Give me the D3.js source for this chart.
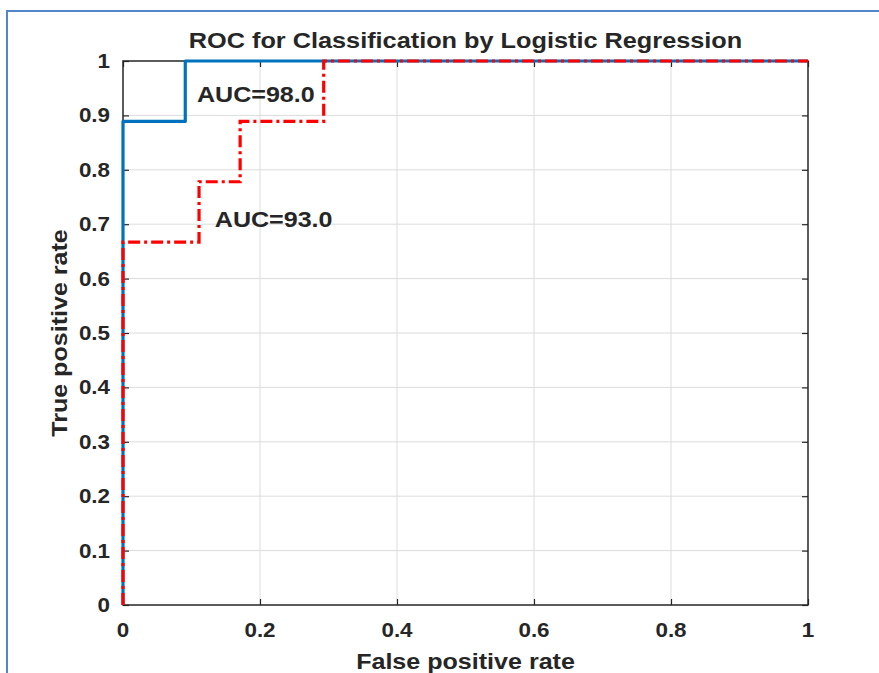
<!DOCTYPE html>
<html>
<head>
<meta charset="utf-8">
<script src="https://cdn.jsdelivr.net/npm/d3@7"></script>
<style>
  html, body { margin: 0; padding: 0; background: #fff; }
  svg { display: block; }
  text { font-family: "Liberation Sans", Arial, Helvetica, sans-serif; font-weight: bold; fill: #262626; }
</style>
</head>
<body>
<svg id="chart" width="879" height="673"></svg>
<script>
// ---- data ----
const blueFPR = [0, 0, 0.0909, 0.0909, 1];
const blueTPR = [0, 0.889, 0.889, 1, 1];
const redFPR  = [0, 0, 0.111, 0.111, 0.171, 0.171, 0.293, 0.293, 1];
const redTPR  = [0, 0.667, 0.667, 0.778, 0.778, 0.889, 0.889, 1, 1];
const xTicks = [0, 0.2, 0.4, 0.6, 0.8, 1];
const yTicks = [0, 0.1, 0.2, 0.3, 0.4, 0.5, 0.6, 0.7, 0.8, 0.9, 1];
const labelTexts = ["AUC=98.0", "AUC=93.0"];
const labelX = [0.108, 0.134];
const labelY = [0.925, 0.695];
const titleText = "ROC for Classification by Logistic Regression";
const xLabelText = "False positive rate";
const yLabelText = "True positive rate";

// ---- layout ----
const svg = d3.select("#chart");
const L = 123, R = 808, T = 61, B = 605;
const x = d3.scaleLinear().domain([0, 1]).range([L, R]);
const y = d3.scaleLinear().domain([0, 1]).range([B, T]);
const SX = 1.12;
const fmt = d => (d === 0 || d === 1) ? String(d) : d3.format(".1f")(d);

// outer frame
svg.append("path")
  .attr("d", `M7,673 L7,11 L879,11`)
  .attr("fill", "none").attr("stroke", "#5585c8").attr("stroke-width", 2);

// grid
const g = svg.append("g");
g.selectAll(".gx").data(xTicks.filter(d => d > 0 && d < 1)).join("line")
  .attr("x1", d => x(d)).attr("x2", d => x(d)).attr("y1", T).attr("y2", B)
  .attr("stroke", "#dcdcdc").attr("stroke-width", 1);
g.selectAll(".gy").data(yTicks.filter(d => d > 0 && d < 1)).join("line")
  .attr("y1", d => y(d)).attr("y2", d => y(d)).attr("x1", L).attr("x2", R)
  .attr("stroke", "#dcdcdc").attr("stroke-width", 1);

// axes via d3 axis (inward ticks)
const axisColor = "#262626";
function styleAxis(sel) {
  sel.select(".domain").remove();
  sel.selectAll(".tick line").attr("stroke", axisColor).attr("stroke-width", 1.2);
  sel.selectAll(".tick text").remove();
}
svg.append("g").attr("transform", `translate(0,${B})`)
  .call(d3.axisBottom(x).tickValues(xTicks).tickSizeInner(-6).tickSizeOuter(0)).call(styleAxis);
svg.append("g").attr("transform", `translate(0,${T})`)
  .call(d3.axisTop(x).tickValues(xTicks).tickSizeInner(-6).tickSizeOuter(0)).call(styleAxis);
svg.append("g").attr("transform", `translate(${L},0)`)
  .call(d3.axisLeft(y).tickValues(yTicks).tickSizeInner(-6).tickSizeOuter(0)).call(styleAxis);
svg.append("g").attr("transform", `translate(${R},0)`)
  .call(d3.axisRight(y).tickValues(yTicks).tickSizeInner(-6).tickSizeOuter(0)).call(styleAxis);

// box
svg.append("rect").attr("x", L).attr("y", T).attr("width", R - L).attr("height", B - T)
  .attr("fill", "none").attr("stroke", axisColor).attr("stroke-width", 1.5);

// tick labels
svg.selectAll(".xt").data(xTicks).join("text")
  .attr("transform", d => `translate(${x(d)},637) scale(${SX},1)`)
  .attr("text-anchor", "middle").attr("font-size", 20).text(fmt);
svg.selectAll(".yt").data(yTicks).join("text")
  .attr("transform", d => `translate(110,${y(d) + 7}) scale(${SX},1)`)
  .attr("text-anchor", "end").attr("font-size", 20).text(fmt);

// curves
const line = d3.line().x(d => x(d[0])).y(d => y(d[1]));
svg.append("path").datum(d3.zip(blueFPR, blueTPR)).attr("d", line)
  .attr("fill", "none").attr("stroke", "#0072BD").attr("stroke-width", 3.2)
  .attr("stroke-linejoin", "round");
svg.append("path").datum(d3.zip(redFPR, redTPR)).attr("d", line)
  .attr("fill", "none").attr("stroke", "#FF0000").attr("stroke-width", 3.2)
  .attr("stroke-dasharray", "12,4,3,4");

// annotations
svg.selectAll(".auc").data(labelTexts).join("text")
  .attr("transform", (d, i) => `translate(${x(labelX[i])},${y(labelY[i])}) scale(1.14,1)`)
  .attr("font-size", 22).attr("fill", "#111").text(d => d);

// title and axis labels
svg.append("text").attr("transform", `translate(${(L + R) / 2},48) scale(1.15,1)`)
  .attr("text-anchor", "middle").attr("font-size", 22).attr("fill", "#111").text(titleText);
svg.append("text").attr("transform", `translate(${(L + R) / 2},669) scale(1.14,1)`)
  .attr("text-anchor", "middle").attr("font-size", 22).text(xLabelText);
svg.append("text").attr("transform", `translate(67,${(T + B) / 2}) rotate(-90) scale(1.14,1)`)
  .attr("text-anchor", "middle").attr("font-size", 22).text(yLabelText);
</script>
</body>
</html>
